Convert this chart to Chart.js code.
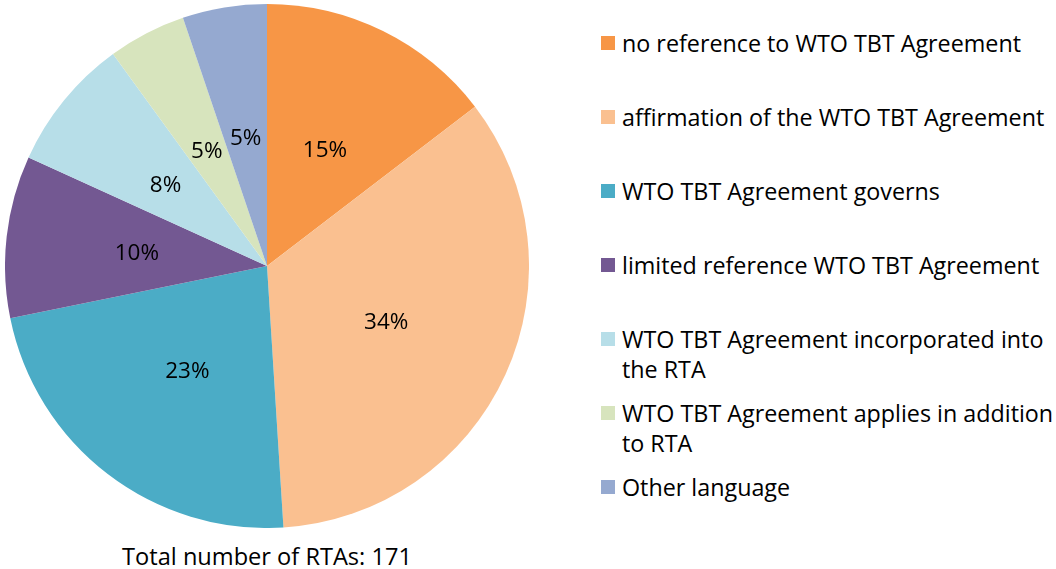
<!DOCTYPE html>
<html>
<head>
<meta charset="utf-8">
<script src="https://cdn.jsdelivr.net/npm/chart.js@4.4.1/dist/chart.umd.min.js"></script>
<style>
  html, body { margin: 0; padding: 0; background: #ffffff; }
  body { width: 1056px; height: 569px; position: relative; overflow: hidden; font-family: "Open Sans", sans-serif; color: #000; }
  #pie-wrap { position: absolute; left: 5px; top: 4px; width: 524px; height: 524px; }
  #legend { position: absolute; left: 601px; top: 28px; width: 455px; }
  .item { position: absolute; left: 0; width: 455px; font-size: 23.3px; line-height: 30px; }
  .item .box { position: absolute; left: 0; top: 8px; width: 14px; height: 14px; }
  .item .txt { margin-left: 21px; width: 434px; }
  #total { position: absolute; left: 0; width: 534px; top: 541px; text-align: center; font-size: 23.6px; line-height: 30px; }
</style>
</head>
<body>
<div id="pie-wrap"><canvas id="rta-pie"></canvas></div>
<div id="legend"></div>
<div id="total"></div>
<script>
// categories and shares (percent of all RTAs)
const categories = [
  "no reference to WTO TBT Agreement",
  "affirmation of the WTO TBT Agreement",
  "WTO TBT Agreement governs",
  "limited reference WTO TBT Agreement",
  "WTO TBT Agreement incorporated into the RTA",
  "WTO TBT Agreement applies in addition to RTA",
  "Other language"
];
const shares = [14.6, 34.4, 22.8, 10.0, 8.2, 4.8, 5.2];
const sliceColors = ["#F79646", "#FAC090", "#4BACC6", "#735892", "#B7DEE8", "#D7E4BD", "#95A9D0"];
const totalRTAs = 171;

// legend rows top offsets (px inside legend box)
const legendTops = [0, 74, 148, 222, 296, 370, 444];

const legend = document.getElementById("legend");
categories.forEach((name, i) => {
  const row = document.createElement("div");
  row.className = "item";
  row.style.top = legendTops[i] + "px";
  row.innerHTML = '<span class="box" style="background:' + sliceColors[i] + '"></span><div class="txt">' + name + "</div>";
  legend.appendChild(row);
});
document.getElementById("total").textContent = "Total number of RTAs: " + totalRTAs;

// percentage labels drawn at half radius, like the spreadsheet chart
const pctLabels = {
  id: "pctLabels",
  afterDatasetsDraw(chart) {
    const ctx = chart.ctx;
    const meta = chart.getDatasetMeta(0);
    const data = chart.data.datasets[0].data;
    const sum = data.reduce((a, b) => a + b, 0);
    ctx.save();
    ctx.font = '22.5px "Open Sans", sans-serif';
    ctx.fillStyle = "#000000";
    ctx.textAlign = "center";
    ctx.textBaseline = "middle";
    meta.data.forEach((arc, i) => {
      const pos = arc.tooltipPosition();
      ctx.fillText(Math.round((data[i] / sum) * 100) + "%", pos.x, pos.y + 2);
    });
    ctx.restore();
  }
};

new Chart(document.getElementById("rta-pie").getContext("2d"), {
  type: "pie",
  plugins: [pctLabels],
  data: {
    labels: categories,
    datasets: [
      {
        data: shares,
        backgroundColor: sliceColors,
        borderWidth: 0,
      },
    ],
  },
  options: {
    responsive: true,
    maintainAspectRatio: false,
    animation: false,
    layout: { padding: 0 },
    plugins: {
      legend: { display: false },
      tooltip: { enabled: false },
    },
  },
});
</script>
</body>
</html>
